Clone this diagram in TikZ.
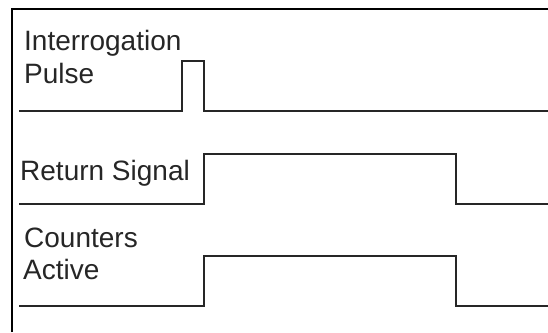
\documentclass[tikz,border=0pt]{standalone}
\usepackage{fontspec}
\setmainfont{Liberation Sans}
\begin{document}
\begin{tikzpicture}[x=1pt,y=-1pt,
  lbl/.style={anchor=base west,inner sep=0pt,font=\fontsize{28}{32}\selectfont,text=black!85},
  wave/.style={line width=1.6pt,black!85,line join=miter},
  frame/.style={line width=2pt,black}]
\useasboundingbox (0,0) rectangle (548,332);
% frame
\draw[frame] (12,332) -- (12,9) -- (548,9);
% labels
\node[lbl] (ip1) at (24,50) {Interrogation};
\node[lbl] (ip2) at (24,83) {Pulse};
\node[lbl] (rs) at (20,180) {Return Signal};
\node[lbl] (ca1) at (24,247) {Counters};
\node[lbl] (ca2) at (23,279) {Active};
% waveforms
\draw[wave] (19,111) -- (182,111) -- (182,61) -- (204,61) -- (204,111) -- (548,111);
\draw[wave] (19,204) -- (204,204) -- (204,154) -- (456,154) -- (456,204) -- (548,204);
\draw[wave] (19,306) -- (204,306) -- (204,256) -- (456,256) -- (456,306) -- (548,306);
\end{tikzpicture}
\end{document}
